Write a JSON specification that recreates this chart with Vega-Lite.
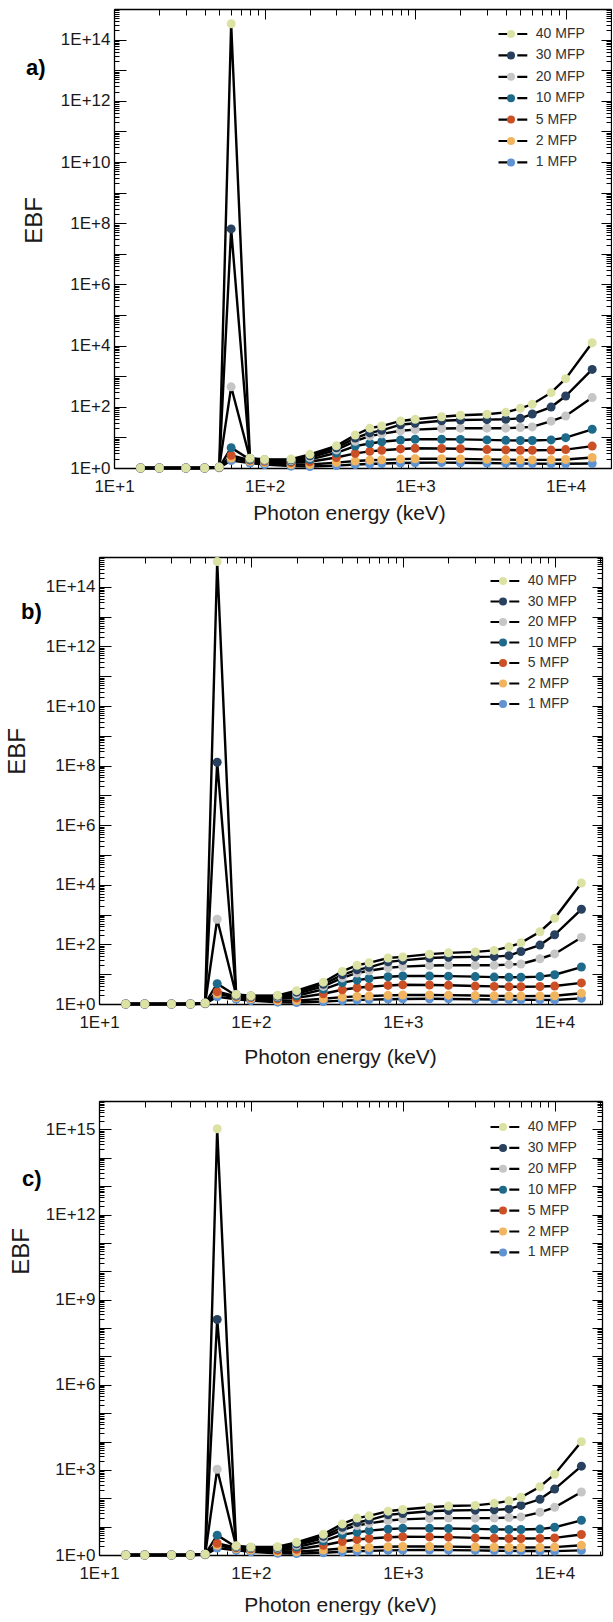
{
"$schema": "https://vega.github.io/schema/vega-lite/v6.json",
"padding": {"left": 4, "top": 0, "right": 0, "bottom": 0},
"background": "white",
"columns": 1,
"align": "none",
"spacing": 25,
"config": {
 "view": {"stroke": null},
 "axis": {"domainColor": "black", "domainWidth": 1.3, "tickColor": "black", "tickWidth": 1, "labelFont": "Liberation Sans", "titleFont": "Liberation Sans", "labelColor": "#1a1a1a", "titleColor": "#1a1a1a", "titleFontWeight": "normal", "grid": false, "labelOverlap": false, "labelFlush": false, "labelBound": false},
 "legend": {"labelFont": "Liberation Sans", "labelFontSize": 14, "labelColor": "#333333", "padding": 0, "title": null},
 "title": {"font": "Liberation Sans", "fontSize": 22, "fontWeight": "bold", "color": "black", "anchor": "start", "frame": "group", "offset": -12, "baseline": "middle"}
},
"datasets": {
 "a": [
  {"E":15,"1 MFP":1,"2 MFP":1,"5 MFP":1,"10 MFP":1,"20 MFP":1,"30 MFP":1,"40 MFP":1},
  {"E":20,"1 MFP":1,"2 MFP":1,"5 MFP":1,"10 MFP":1,"20 MFP":1,"30 MFP":1,"40 MFP":1},
  {"E":30,"1 MFP":1,"2 MFP":1,"5 MFP":1,"10 MFP":1,"20 MFP":1,"30 MFP":1,"40 MFP":1},
  {"E":40,"1 MFP":1,"2 MFP":1,"5 MFP":1,"10 MFP":1,"20 MFP":1,"30 MFP":1,"40 MFP":1},
  {"E":50,"1 MFP":1.02,"2 MFP":1.03,"5 MFP":1.04,"10 MFP":1.05,"20 MFP":1.06,"30 MFP":1.07,"40 MFP":1.07},
  {"E":60,"1 MFP":1.75,"2 MFP":2.1,"5 MFP":2.6,"10 MFP":4.6,"20 MFP":450,"30 MFP":6.5e7,"40 MFP":3.3e14},
  {"E":80,"1 MFP":1.45,"2 MFP":1.65,"5 MFP":1.8,"10 MFP":1.9,"20 MFP":2.0,"30 MFP":2.05,"40 MFP":2.1},
  {"E":100,"1 MFP":1.3,"2 MFP":1.5,"5 MFP":1.65,"10 MFP":1.75,"20 MFP":1.8,"30 MFP":1.85,"40 MFP":1.9},
  {"E":150,"1 MFP":1.15,"2 MFP":1.3,"5 MFP":1.5,"10 MFP":1.65,"20 MFP":1.75,"30 MFP":1.85,"40 MFP":1.95},
  {"E":200,"1 MFP":1.12,"2 MFP":1.3,"5 MFP":1.6,"10 MFP":1.9,"20 MFP":2.2,"30 MFP":2.5,"40 MFP":2.8},
  {"E":300,"1 MFP":1.2,"2 MFP":1.5,"5 MFP":2.2,"10 MFP":3.1,"20 MFP":3.9,"30 MFP":4.6,"40 MFP":5.3},
  {"E":400,"1 MFP":1.3,"2 MFP":1.7,"5 MFP":3.0,"10 MFP":5.2,"20 MFP":7.5,"30 MFP":9.5,"40 MFP":12},
  {"E":500,"1 MFP":1.35,"2 MFP":1.8,"5 MFP":3.5,"10 MFP":6.3,"20 MFP":11,"30 MFP":14,"40 MFP":20},
  {"E":600,"1 MFP":1.4,"2 MFP":1.85,"5 MFP":3.8,"10 MFP":7.2,"20 MFP":13,"30 MFP":17,"40 MFP":23.5},
  {"E":800,"1 MFP":1.45,"2 MFP":1.95,"5 MFP":4.2,"10 MFP":8.2,"20 MFP":16.5,"30 MFP":26,"40 MFP":34.5},
  {"E":1000,"1 MFP":1.48,"2 MFP":2.0,"5 MFP":4.4,"10 MFP":8.7,"20 MFP":18,"30 MFP":29,"40 MFP":39},
  {"E":1500,"1 MFP":1.5,"2 MFP":2.0,"5 MFP":4.35,"10 MFP":8.7,"20 MFP":19.5,"30 MFP":35,"40 MFP":47.5},
  {"E":2000,"1 MFP":1.48,"2 MFP":1.98,"5 MFP":4.25,"10 MFP":8.6,"20 MFP":20,"30 MFP":37,"40 MFP":53},
  {"E":3000,"1 MFP":1.45,"2 MFP":1.92,"5 MFP":4.0,"10 MFP":8.3,"20 MFP":20,"30 MFP":38,"40 MFP":57},
  {"E":4000,"1 MFP":1.42,"2 MFP":1.88,"5 MFP":3.9,"10 MFP":8.0,"20 MFP":20,"30 MFP":39,"40 MFP":66},
  {"E":5000,"1 MFP":1.4,"2 MFP":1.85,"5 MFP":3.8,"10 MFP":7.9,"20 MFP":21,"30 MFP":42,"40 MFP":89},
  {"E":6000,"1 MFP":1.39,"2 MFP":1.84,"5 MFP":3.8,"10 MFP":7.9,"20 MFP":22,"30 MFP":58,"40 MFP":121},
  {"E":8000,"1 MFP":1.38,"2 MFP":1.85,"5 MFP":3.85,"10 MFP":8.3,"20 MFP":34,"30 MFP":98,"40 MFP":290},
  {"E":10000,"1 MFP":1.37,"2 MFP":1.9,"5 MFP":4.0,"10 MFP":9.8,"20 MFP":50,"30 MFP":225,"40 MFP":830},
  {"E":15000,"1 MFP":1.4,"2 MFP":2.2,"5 MFP":5.2,"10 MFP":18.4,"20 MFP":200,"30 MFP":1670,"40 MFP":12400}
 ],
 "b": [
  {"E":15,"1 MFP":1,"2 MFP":1,"5 MFP":1,"10 MFP":1,"20 MFP":1,"30 MFP":1,"40 MFP":1},
  {"E":20,"1 MFP":1,"2 MFP":1,"5 MFP":1,"10 MFP":1,"20 MFP":1,"30 MFP":1,"40 MFP":1},
  {"E":30,"1 MFP":1,"2 MFP":1,"5 MFP":1,"10 MFP":1,"20 MFP":1,"30 MFP":1,"40 MFP":1},
  {"E":40,"1 MFP":1,"2 MFP":1,"5 MFP":1,"10 MFP":1,"20 MFP":1,"30 MFP":1,"40 MFP":1},
  {"E":50,"1 MFP":1.02,"2 MFP":1.03,"5 MFP":1.04,"10 MFP":1.05,"20 MFP":1.06,"30 MFP":1.07,"40 MFP":1.07},
  {"E":60,"1 MFP":1.75,"2 MFP":2.2,"5 MFP":2.6,"10 MFP":4.8,"20 MFP":700,"30 MFP":1.3e8,"40 MFP":7e14},
  {"E":80,"1 MFP":1.45,"2 MFP":1.65,"5 MFP":1.8,"10 MFP":1.9,"20 MFP":2.0,"30 MFP":2.05,"40 MFP":2.1},
  {"E":100,"1 MFP":1.3,"2 MFP":1.5,"5 MFP":1.65,"10 MFP":1.75,"20 MFP":1.8,"30 MFP":1.85,"40 MFP":1.9},
  {"E":150,"1 MFP":1.15,"2 MFP":1.3,"5 MFP":1.5,"10 MFP":1.65,"20 MFP":1.75,"30 MFP":1.85,"40 MFP":1.95},
  {"E":200,"1 MFP":1.12,"2 MFP":1.3,"5 MFP":1.6,"10 MFP":1.9,"20 MFP":2.2,"30 MFP":2.5,"40 MFP":2.8},
  {"E":300,"1 MFP":1.2,"2 MFP":1.5,"5 MFP":2.2,"10 MFP":3.1,"20 MFP":3.9,"30 MFP":4.6,"40 MFP":5.4},
  {"E":400,"1 MFP":1.3,"2 MFP":1.7,"5 MFP":3.0,"10 MFP":5.2,"20 MFP":7.5,"30 MFP":9.5,"40 MFP":12.4},
  {"E":500,"1 MFP":1.35,"2 MFP":1.8,"5 MFP":3.5,"10 MFP":6.3,"20 MFP":11,"30 MFP":14,"40 MFP":20},
  {"E":600,"1 MFP":1.4,"2 MFP":1.85,"5 MFP":3.8,"10 MFP":7.2,"20 MFP":13,"30 MFP":17,"40 MFP":24},
  {"E":800,"1 MFP":1.45,"2 MFP":1.95,"5 MFP":4.2,"10 MFP":8.2,"20 MFP":16.5,"30 MFP":26,"40 MFP":35},
  {"E":1000,"1 MFP":1.48,"2 MFP":2.0,"5 MFP":4.4,"10 MFP":8.7,"20 MFP":18,"30 MFP":29,"40 MFP":38},
  {"E":1500,"1 MFP":1.5,"2 MFP":2.0,"5 MFP":4.35,"10 MFP":8.7,"20 MFP":19.5,"30 MFP":35,"40 MFP":47},
  {"E":2000,"1 MFP":1.48,"2 MFP":1.98,"5 MFP":4.25,"10 MFP":8.6,"20 MFP":20,"30 MFP":37,"40 MFP":52},
  {"E":3000,"1 MFP":1.45,"2 MFP":1.92,"5 MFP":4.0,"10 MFP":8.3,"20 MFP":20,"30 MFP":38,"40 MFP":56},
  {"E":4000,"1 MFP":1.42,"2 MFP":1.88,"5 MFP":3.9,"10 MFP":8.0,"20 MFP":20,"30 MFP":39,"40 MFP":63},
  {"E":5000,"1 MFP":1.4,"2 MFP":1.85,"5 MFP":3.8,"10 MFP":7.9,"20 MFP":21,"30 MFP":42,"40 MFP":83},
  {"E":6000,"1 MFP":1.39,"2 MFP":1.84,"5 MFP":3.8,"10 MFP":7.9,"20 MFP":22,"30 MFP":58,"40 MFP":113},
  {"E":8000,"1 MFP":1.38,"2 MFP":1.85,"5 MFP":3.85,"10 MFP":8.3,"20 MFP":33,"30 MFP":95,"40 MFP":266},
  {"E":10000,"1 MFP":1.37,"2 MFP":1.9,"5 MFP":4.0,"10 MFP":9.6,"20 MFP":48,"30 MFP":210,"40 MFP":750},
  {"E":15000,"1 MFP":1.55,"2 MFP":2.3,"5 MFP":5.1,"10 MFP":17.4,"20 MFP":170,"30 MFP":1510,"40 MFP":11500}
 ],
 "c": [
  {"E":15,"1 MFP":1,"2 MFP":1,"5 MFP":1,"10 MFP":1,"20 MFP":1,"30 MFP":1,"40 MFP":1},
  {"E":20,"1 MFP":1,"2 MFP":1,"5 MFP":1,"10 MFP":1,"20 MFP":1,"30 MFP":1,"40 MFP":1},
  {"E":30,"1 MFP":1,"2 MFP":1,"5 MFP":1,"10 MFP":1,"20 MFP":1,"30 MFP":1,"40 MFP":1},
  {"E":40,"1 MFP":1,"2 MFP":1,"5 MFP":1,"10 MFP":1,"20 MFP":1,"30 MFP":1,"40 MFP":1},
  {"E":50,"1 MFP":1.02,"2 MFP":1.03,"5 MFP":1.04,"10 MFP":1.05,"20 MFP":1.06,"30 MFP":1.07,"40 MFP":1.07},
  {"E":60,"1 MFP":1.75,"2 MFP":2.2,"5 MFP":2.6,"10 MFP":5.0,"20 MFP":1050,"30 MFP":2e8,"40 MFP":1.05e15},
  {"E":80,"1 MFP":1.45,"2 MFP":1.65,"5 MFP":1.8,"10 MFP":1.9,"20 MFP":2.0,"30 MFP":2.05,"40 MFP":2.1},
  {"E":100,"1 MFP":1.3,"2 MFP":1.5,"5 MFP":1.65,"10 MFP":1.75,"20 MFP":1.8,"30 MFP":1.85,"40 MFP":1.9},
  {"E":150,"1 MFP":1.15,"2 MFP":1.3,"5 MFP":1.5,"10 MFP":1.65,"20 MFP":1.75,"30 MFP":1.85,"40 MFP":1.95},
  {"E":200,"1 MFP":1.12,"2 MFP":1.3,"5 MFP":1.6,"10 MFP":1.9,"20 MFP":2.2,"30 MFP":2.5,"40 MFP":2.8},
  {"E":300,"1 MFP":1.2,"2 MFP":1.5,"5 MFP":2.2,"10 MFP":3.1,"20 MFP":3.9,"30 MFP":4.6,"40 MFP":5.4},
  {"E":400,"1 MFP":1.3,"2 MFP":1.7,"5 MFP":3.0,"10 MFP":5.2,"20 MFP":7.5,"30 MFP":9.5,"40 MFP":12.5},
  {"E":500,"1 MFP":1.35,"2 MFP":1.8,"5 MFP":3.5,"10 MFP":6.3,"20 MFP":11,"30 MFP":14,"40 MFP":20},
  {"E":600,"1 MFP":1.4,"2 MFP":1.85,"5 MFP":3.8,"10 MFP":7.2,"20 MFP":13,"30 MFP":17,"40 MFP":24},
  {"E":800,"1 MFP":1.45,"2 MFP":1.95,"5 MFP":4.2,"10 MFP":8.2,"20 MFP":16.5,"30 MFP":26,"40 MFP":35},
  {"E":1000,"1 MFP":1.48,"2 MFP":2.0,"5 MFP":4.4,"10 MFP":8.7,"20 MFP":18,"30 MFP":29,"40 MFP":40},
  {"E":1500,"1 MFP":1.5,"2 MFP":2.0,"5 MFP":4.35,"10 MFP":8.7,"20 MFP":19.5,"30 MFP":35,"40 MFP":48},
  {"E":2000,"1 MFP":1.48,"2 MFP":1.98,"5 MFP":4.25,"10 MFP":8.6,"20 MFP":20,"30 MFP":37,"40 MFP":53},
  {"E":3000,"1 MFP":1.45,"2 MFP":1.92,"5 MFP":4.0,"10 MFP":8.3,"20 MFP":20,"30 MFP":38,"40 MFP":56},
  {"E":4000,"1 MFP":1.42,"2 MFP":1.88,"5 MFP":3.9,"10 MFP":8.0,"20 MFP":20,"30 MFP":39,"40 MFP":66},
  {"E":5000,"1 MFP":1.4,"2 MFP":1.85,"5 MFP":3.8,"10 MFP":7.9,"20 MFP":21,"30 MFP":42,"40 MFP":81},
  {"E":6000,"1 MFP":1.39,"2 MFP":1.84,"5 MFP":3.8,"10 MFP":7.9,"20 MFP":22,"30 MFP":56,"40 MFP":108},
  {"E":8000,"1 MFP":1.38,"2 MFP":1.85,"5 MFP":3.85,"10 MFP":8.2,"20 MFP":32,"30 MFP":92,"40 MFP":255},
  {"E":10000,"1 MFP":1.37,"2 MFP":1.9,"5 MFP":4.0,"10 MFP":9.5,"20 MFP":48,"30 MFP":210,"40 MFP":700},
  {"E":15000,"1 MFP":1.45,"2 MFP":2.2,"5 MFP":5.3,"10 MFP":16.7,"20 MFP":166,"30 MFP":1350,"40 MFP":9800}
 ]
},
"resolve": {"scale": {"x": "independent", "y": "independent", "fill": "independent", "stroke": "independent"}, "legend": {"fill": "independent", "stroke": "independent"}, "axis": {"x": "independent", "y": "independent"}},
"concat": [
 {
  "width": 512, "height": 459,
  "title": {"text": "a)", "dx": -73, "dy": 68},
  "data": {"name": "a"},
  "transform": [{"fold": ["1 MFP","2 MFP","5 MFP","10 MFP","20 MFP","30 MFP","40 MFP"], "as": ["MFP","EBF"]}],
  "resolve": {"axis": {"x": "independent", "y": "independent"}},
  "layer": [
   {"mark": {"type": "line", "strokeWidth": 2.4},
    "encoding": {
     "x": {"field": "E", "type": "quantitative", "scale": {"type": "log", "domain": [10, 20000], "range": [15, 512], "nice": false},
       "axis": {"orient": "bottom", "values": [10,20,30,40,50,60,70,80,90,100,200,300,400,500,600,700,800,900,1000,2000,3000,4000,5000,6000,7000,8000,9000,10000,20000],
        "labelExpr": "abs(log(datum.value)/LN10 - round(log(datum.value)/LN10)) < 0.001 ? '1E+' + round(log(datum.value)/LN10) : ''",
        "tickSize": {"condition": {"test": "abs(log(datum.value)/LN10 - round(log(datum.value)/LN10)) < 0.001", "value": -8}, "value": -4},
        "labelPadding": 18.5, "labelFontSize": 17, "title": "Photon energy (keV)", "titleFontSize": 21, "titleX": 250, "titleY": 45, "titleBaseline": "middle"}},
     "y": {"field": "EBF", "type": "quantitative", "scale": {"type": "log", "domain": [1, 1e15], "nice": false},
       "axis": {"orient": "left", "offset": -15, "values": [1,2,3,4,5,6,7,8,9,10,20,30,40,50,60,70,80,90,100,200,300,400,500,600,700,800,900,1e3,2e3,3e3,4e3,5e3,6e3,7e3,8e3,9e3,1e4,2e4,3e4,4e4,5e4,6e4,7e4,8e4,9e4,1e5,2e5,3e5,4e5,5e5,6e5,7e5,8e5,9e5,1e6,2e6,3e6,4e6,5e6,6e6,7e6,8e6,9e6,1e7,2e7,3e7,4e7,5e7,6e7,7e7,8e7,9e7,1e8,2e8,3e8,4e8,5e8,6e8,7e8,8e8,9e8,1e9,2e9,3e9,4e9,5e9,6e9,7e9,8e9,9e9,1e10,2e10,3e10,4e10,5e10,6e10,7e10,8e10,9e10,1e11,2e11,3e11,4e11,5e11,6e11,7e11,8e11,9e11,1e12,2e12,3e12,4e12,5e12,6e12,7e12,8e12,9e12,1e13,2e13,3e13,4e13,5e13,6e13,7e13,8e13,9e13,1e14,2e14,3e14,4e14,5e14,6e14,7e14,8e14,9e14,1e15],
        "labelExpr": "abs(log(datum.value)/LN10 - round(log(datum.value)/LN10)) < 0.001 && round(log(datum.value)/LN10) % 2 == 0 ? '1E+' + round(log(datum.value)/LN10) : ''",
        "tickSize": {"condition": {"test": "abs(log(datum.value)/LN10 - round(log(datum.value)/LN10)) < 0.001", "value": -12}, "value": -5},
        "labelPadding": 16, "labelFontSize": 17, "title": "EBF", "titleFontSize": 24, "titleX": -80, "titleY": 211, "titleBaseline": "middle", "titleAngle": 270}},
     "stroke": {"field": "MFP", "type": "nominal", "scale": {"domain": ["40 MFP","30 MFP","20 MFP","10 MFP","5 MFP","2 MFP","1 MFP"], "range": ["black","black","black","black","black","black","black"]},
       "legend": {"orient": "none", "legendX": 406.9, "legendY": 18, "symbolType": "M-3.6,0L-1.1,0M1.1,0L3.6,0", "symbolSize": 64, "symbolStrokeWidth": 2.2, "symbolFillColor": "transparent", "labelOffset": 15.9, "rowPadding": 7.4, "zindex": 1}}
    }},
   {"mark": {"type": "circle", "size": 81, "opacity": 1, "strokeWidth": 0},
    "encoding": {
     "x": {"field": "E", "type": "quantitative", "scale": {"type": "log", "domain": [10, 20000], "range": [15, 512], "nice": false},
       "axis": {"orient": "top", "values": [10,20,30,40,50,60,70,80,90,100,200,300,400,500,600,700,800,900,1000,2000,3000,4000,5000,6000,7000,8000,9000,10000,20000], "labels": false, "title": null,
        "tickSize": {"condition": {"test": "abs(log(datum.value)/LN10 - round(log(datum.value)/LN10)) < 0.001", "value": -10}, "value": -6}}},
     "y": {"field": "EBF", "type": "quantitative", "scale": {"type": "log", "domain": [1, 1e15], "nice": false},
       "axis": {"orient": "right", "values": [1,2,3,4,5,6,7,8,9,10,20,30,40,50,60,70,80,90,100,200,300,400,500,600,700,800,900,1e3,2e3,3e3,4e3,5e3,6e3,7e3,8e3,9e3,1e4,2e4,3e4,4e4,5e4,6e4,7e4,8e4,9e4,1e5,2e5,3e5,4e5,5e5,6e5,7e5,8e5,9e5,1e6,2e6,3e6,4e6,5e6,6e6,7e6,8e6,9e6,1e7,2e7,3e7,4e7,5e7,6e7,7e7,8e7,9e7,1e8,2e8,3e8,4e8,5e8,6e8,7e8,8e8,9e8,1e9,2e9,3e9,4e9,5e9,6e9,7e9,8e9,9e9,1e10,2e10,3e10,4e10,5e10,6e10,7e10,8e10,9e10,1e11,2e11,3e11,4e11,5e11,6e11,7e11,8e11,9e11,1e12,2e12,3e12,4e12,5e12,6e12,7e12,8e12,9e12,1e13,2e13,3e13,4e13,5e13,6e13,7e13,8e13,9e13,1e14,2e14,3e14,4e14,5e14,6e14,7e14,8e14,9e14,1e15], "labels": false,
        "title": "\u00a0", "titleX": -607, "titleY": 300, "titleAngle": 0, "titleAlign": "left", "titleBaseline": "middle", "titleFontSize": 20,
        "tickSize": {"condition": {"test": "abs(log(datum.value)/LN10 - round(log(datum.value)/LN10)) < 0.001", "value": -10}, "value": -5}}},
     "fill": {"field": "MFP", "type": "nominal", "scale": {"domain": ["40 MFP","30 MFP","20 MFP","10 MFP","5 MFP","2 MFP","1 MFP"], "range": ["#dce2a3","#27415f","#c6c6c6","#1e6a8b","#cc5026","#f0b55e","#5f93d1"]},
       "legend": {"orient": "top-right", "offset": 18, "symbolType": "circle", "symbolSize": 64, "symbolStrokeWidth": 0, "labelExpr": "'\u00a0'", "labelOpacity": 0, "labelOffset": 74.1, "rowPadding": 7.4, "zindex": 2}}
    }}
  ]
 },
 {
  "width": 503, "height": 447,
  "title": {"text": "b)", "dx": -78, "dy": 64},
  "data": {"name": "b"},
  "transform": [{"fold": ["1 MFP","2 MFP","5 MFP","10 MFP","20 MFP","30 MFP","40 MFP"], "as": ["MFP","EBF"]}],
  "resolve": {"axis": {"x": "independent", "y": "independent"}},
  "layer": [
   {"mark": {"type": "line", "strokeWidth": 2.4},
    "encoding": {
     "x": {"field": "E", "type": "quantitative", "scale": {"type": "log", "domain": [10, 20500], "nice": false},
       "axis": {"orient": "bottom", "values": [10,20,30,40,50,60,70,80,90,100,200,300,400,500,600,700,800,900,1000,2000,3000,4000,5000,6000,7000,8000,9000,10000,20000],
        "labelExpr": "abs(log(datum.value)/LN10 - round(log(datum.value)/LN10)) < 0.001 ? '1E+' + round(log(datum.value)/LN10) : ''",
        "tickSize": {"condition": {"test": "abs(log(datum.value)/LN10 - round(log(datum.value)/LN10)) < 0.001", "value": -8}, "value": -4},
        "labelPadding": 18.5, "labelFontSize": 17, "title": "Photon energy (keV)", "titleFontSize": 21, "titleX": 241, "titleY": 53, "titleBaseline": "middle"}},
     "y": {"field": "EBF", "type": "quantitative", "scale": {"type": "log", "domain": [1, 1e15], "nice": false},
       "axis": {"orient": "left", "values": [1,2,3,4,5,6,7,8,9,10,20,30,40,50,60,70,80,90,100,200,300,400,500,600,700,800,900,1e3,2e3,3e3,4e3,5e3,6e3,7e3,8e3,9e3,1e4,2e4,3e4,4e4,5e4,6e4,7e4,8e4,9e4,1e5,2e5,3e5,4e5,5e5,6e5,7e5,8e5,9e5,1e6,2e6,3e6,4e6,5e6,6e6,7e6,8e6,9e6,1e7,2e7,3e7,4e7,5e7,6e7,7e7,8e7,9e7,1e8,2e8,3e8,4e8,5e8,6e8,7e8,8e8,9e8,1e9,2e9,3e9,4e9,5e9,6e9,7e9,8e9,9e9,1e10,2e10,3e10,4e10,5e10,6e10,7e10,8e10,9e10,1e11,2e11,3e11,4e11,5e11,6e11,7e11,8e11,9e11,1e12,2e12,3e12,4e12,5e12,6e12,7e12,8e12,9e12,1e13,2e13,3e13,4e13,5e13,6e13,7e13,8e13,9e13,1e14,2e14,3e14,4e14,5e14,6e14,7e14,8e14,9e14,1e15],
        "labelExpr": "abs(log(datum.value)/LN10 - round(log(datum.value)/LN10)) < 0.001 && round(log(datum.value)/LN10) % 2 == 0 ? '1E+' + round(log(datum.value)/LN10) : ''",
        "tickSize": {"condition": {"test": "abs(log(datum.value)/LN10 - round(log(datum.value)/LN10)) < 0.001", "value": -12}, "value": -5},
        "labelPadding": 16, "labelFontSize": 17, "title": "EBF", "titleFontSize": 24, "titleX": -82, "titleY": 194, "titleBaseline": "middle", "titleAngle": 270}},
     "stroke": {"field": "MFP", "type": "nominal", "scale": {"domain": ["40 MFP","30 MFP","20 MFP","10 MFP","5 MFP","2 MFP","1 MFP"], "range": ["black","black","black","black","black","black","black"]},
       "legend": {"orient": "none", "legendX": 398.9, "legendY": 17, "symbolType": "M-3.6,0L-1.1,0M1.1,0L3.6,0", "symbolSize": 64, "symbolStrokeWidth": 2.2, "symbolFillColor": "transparent", "labelOffset": 15.9, "rowPadding": 6.5, "zindex": 1}}
    }},
   {"mark": {"type": "circle", "size": 81, "opacity": 1, "strokeWidth": 0},
    "encoding": {
     "x": {"field": "E", "type": "quantitative", "scale": {"type": "log", "domain": [10, 20500], "nice": false},
       "axis": {"orient": "top", "values": [10,20,30,40,50,60,70,80,90,100,200,300,400,500,600,700,800,900,1000,2000,3000,4000,5000,6000,7000,8000,9000,10000,20000], "labels": false, "title": null,
        "tickSize": {"condition": {"test": "abs(log(datum.value)/LN10 - round(log(datum.value)/LN10)) < 0.001", "value": -10}, "value": -6}}},
     "y": {"field": "EBF", "type": "quantitative", "scale": {"type": "log", "domain": [1, 1e15], "nice": false},
       "axis": {"orient": "right", "values": [1,2,3,4,5,6,7,8,9,10,20,30,40,50,60,70,80,90,100,200,300,400,500,600,700,800,900,1e3,2e3,3e3,4e3,5e3,6e3,7e3,8e3,9e3,1e4,2e4,3e4,4e4,5e4,6e4,7e4,8e4,9e4,1e5,2e5,3e5,4e5,5e5,6e5,7e5,8e5,9e5,1e6,2e6,3e6,4e6,5e6,6e6,7e6,8e6,9e6,1e7,2e7,3e7,4e7,5e7,6e7,7e7,8e7,9e7,1e8,2e8,3e8,4e8,5e8,6e8,7e8,8e8,9e8,1e9,2e9,3e9,4e9,5e9,6e9,7e9,8e9,9e9,1e10,2e10,3e10,4e10,5e10,6e10,7e10,8e10,9e10,1e11,2e11,3e11,4e11,5e11,6e11,7e11,8e11,9e11,1e12,2e12,3e12,4e12,5e12,6e12,7e12,8e12,9e12,1e13,2e13,3e13,4e13,5e13,6e13,7e13,8e13,9e13,1e14,2e14,3e14,4e14,5e14,6e14,7e14,8e14,9e14,1e15], "labels": false,
        "title": "\u00a0", "titleX": -598, "titleY": 300, "titleAngle": 0, "titleAlign": "left", "titleBaseline": "middle", "titleFontSize": 20,
        "tickSize": {"condition": {"test": "abs(log(datum.value)/LN10 - round(log(datum.value)/LN10)) < 0.001", "value": -10}, "value": -5}}},
     "fill": {"field": "MFP", "type": "nominal", "scale": {"domain": ["40 MFP","30 MFP","20 MFP","10 MFP","5 MFP","2 MFP","1 MFP"], "range": ["#dce2a3","#27415f","#c6c6c6","#1e6a8b","#cc5026","#f0b55e","#5f93d1"]},
       "legend": {"orient": "top-right", "offset": 17, "symbolType": "circle", "symbolSize": 64, "symbolStrokeWidth": 0, "labelExpr": "'\u00a0'", "labelOpacity": 0, "labelOffset": 74.1, "rowPadding": 6.5, "zindex": 2}}
    }}
  ]
 },
 {
  "width": 503, "height": 454,
  "title": {"text": "c)", "dx": -77, "dy": 87},
  "data": {"name": "c"},
  "transform": [{"fold": ["1 MFP","2 MFP","5 MFP","10 MFP","20 MFP","30 MFP","40 MFP"], "as": ["MFP","EBF"]}],
  "resolve": {"axis": {"x": "independent", "y": "independent"}},
  "layer": [
   {"mark": {"type": "line", "strokeWidth": 2.4},
    "encoding": {
     "x": {"field": "E", "type": "quantitative", "scale": {"type": "log", "domain": [10, 20500], "nice": false},
       "axis": {"orient": "bottom", "values": [10,20,30,40,50,60,70,80,90,100,200,300,400,500,600,700,800,900,1000,2000,3000,4000,5000,6000,7000,8000,9000,10000,20000],
        "labelExpr": "abs(log(datum.value)/LN10 - round(log(datum.value)/LN10)) < 0.001 ? '1E+' + round(log(datum.value)/LN10) : ''",
        "tickSize": {"condition": {"test": "abs(log(datum.value)/LN10 - round(log(datum.value)/LN10)) < 0.001", "value": -8}, "value": -4},
        "labelPadding": 18.5, "labelFontSize": 17, "title": "Photon energy (keV)", "titleFontSize": 21, "titleX": 241, "titleY": 50, "titleBaseline": "middle"}},
     "y": {"field": "EBF", "type": "quantitative", "scale": {"type": "log", "domain": [1, 1e16], "nice": false},
       "axis": {"orient": "left", "values": [1,2,3,4,5,6,7,8,9,10,20,30,40,50,60,70,80,90,100,200,300,400,500,600,700,800,900,1e3,2e3,3e3,4e3,5e3,6e3,7e3,8e3,9e3,1e4,2e4,3e4,4e4,5e4,6e4,7e4,8e4,9e4,1e5,2e5,3e5,4e5,5e5,6e5,7e5,8e5,9e5,1e6,2e6,3e6,4e6,5e6,6e6,7e6,8e6,9e6,1e7,2e7,3e7,4e7,5e7,6e7,7e7,8e7,9e7,1e8,2e8,3e8,4e8,5e8,6e8,7e8,8e8,9e8,1e9,2e9,3e9,4e9,5e9,6e9,7e9,8e9,9e9,1e10,2e10,3e10,4e10,5e10,6e10,7e10,8e10,9e10,1e11,2e11,3e11,4e11,5e11,6e11,7e11,8e11,9e11,1e12,2e12,3e12,4e12,5e12,6e12,7e12,8e12,9e12,1e13,2e13,3e13,4e13,5e13,6e13,7e13,8e13,9e13,1e14,2e14,3e14,4e14,5e14,6e14,7e14,8e14,9e14,1e15,2e15,3e15,4e15,5e15,6e15,7e15,8e15,9e15,1e16],
        "labelExpr": "abs(log(datum.value)/LN10 - round(log(datum.value)/LN10)) < 0.001 && round(log(datum.value)/LN10) % 3 == 0 ? '1E+' + round(log(datum.value)/LN10) : ''",
        "tickSize": {"condition": {"test": "abs(log(datum.value)/LN10 - round(log(datum.value)/LN10)) < 0.001", "value": -12}, "value": -5},
        "labelPadding": 16, "labelFontSize": 17, "title": "EBF", "titleFontSize": 24, "titleX": -78, "titleY": 150, "titleBaseline": "middle", "titleAngle": 270}},
     "stroke": {"field": "MFP", "type": "nominal", "scale": {"domain": ["40 MFP","30 MFP","20 MFP","10 MFP","5 MFP","2 MFP","1 MFP"], "range": ["black","black","black","black","black","black","black"]},
       "legend": {"orient": "none", "legendX": 398.9, "legendY": 19, "symbolType": "M-3.6,0L-1.1,0M1.1,0L3.6,0", "symbolSize": 64, "symbolStrokeWidth": 2.2, "symbolFillColor": "transparent", "labelOffset": 15.9, "rowPadding": 6.9, "zindex": 1}}
    }},
   {"mark": {"type": "circle", "size": 81, "opacity": 1, "strokeWidth": 0},
    "encoding": {
     "x": {"field": "E", "type": "quantitative", "scale": {"type": "log", "domain": [10, 20500], "nice": false},
       "axis": {"orient": "top", "values": [10,20,30,40,50,60,70,80,90,100,200,300,400,500,600,700,800,900,1000,2000,3000,4000,5000,6000,7000,8000,9000,10000,20000], "labels": false, "title": null,
        "tickSize": {"condition": {"test": "abs(log(datum.value)/LN10 - round(log(datum.value)/LN10)) < 0.001", "value": -10}, "value": -6}}},
     "y": {"field": "EBF", "type": "quantitative", "scale": {"type": "log", "domain": [1, 1e16], "nice": false},
       "axis": {"orient": "right", "values": [1,2,3,4,5,6,7,8,9,10,20,30,40,50,60,70,80,90,100,200,300,400,500,600,700,800,900,1e3,2e3,3e3,4e3,5e3,6e3,7e3,8e3,9e3,1e4,2e4,3e4,4e4,5e4,6e4,7e4,8e4,9e4,1e5,2e5,3e5,4e5,5e5,6e5,7e5,8e5,9e5,1e6,2e6,3e6,4e6,5e6,6e6,7e6,8e6,9e6,1e7,2e7,3e7,4e7,5e7,6e7,7e7,8e7,9e7,1e8,2e8,3e8,4e8,5e8,6e8,7e8,8e8,9e8,1e9,2e9,3e9,4e9,5e9,6e9,7e9,8e9,9e9,1e10,2e10,3e10,4e10,5e10,6e10,7e10,8e10,9e10,1e11,2e11,3e11,4e11,5e11,6e11,7e11,8e11,9e11,1e12,2e12,3e12,4e12,5e12,6e12,7e12,8e12,9e12,1e13,2e13,3e13,4e13,5e13,6e13,7e13,8e13,9e13,1e14,2e14,3e14,4e14,5e14,6e14,7e14,8e14,9e14,1e15,2e15,3e15,4e15,5e15,6e15,7e15,8e15,9e15,1e16], "labels": false,
        "title": "\u00a0", "titleX": -598, "titleY": 300, "titleAngle": 0, "titleAlign": "left", "titleBaseline": "middle", "titleFontSize": 20,
        "tickSize": {"condition": {"test": "abs(log(datum.value)/LN10 - round(log(datum.value)/LN10)) < 0.001", "value": -10}, "value": -5}}},
     "fill": {"field": "MFP", "type": "nominal", "scale": {"domain": ["40 MFP","30 MFP","20 MFP","10 MFP","5 MFP","2 MFP","1 MFP"], "range": ["#dce2a3","#27415f","#c6c6c6","#1e6a8b","#cc5026","#f0b55e","#5f93d1"]},
       "legend": {"orient": "top-right", "offset": 19, "symbolType": "circle", "symbolSize": 64, "symbolStrokeWidth": 0, "labelExpr": "'\u00a0'", "labelOpacity": 0, "labelOffset": 72.1, "rowPadding": 6.9, "zindex": 2}}
    }}
  ]
 }
]
}
